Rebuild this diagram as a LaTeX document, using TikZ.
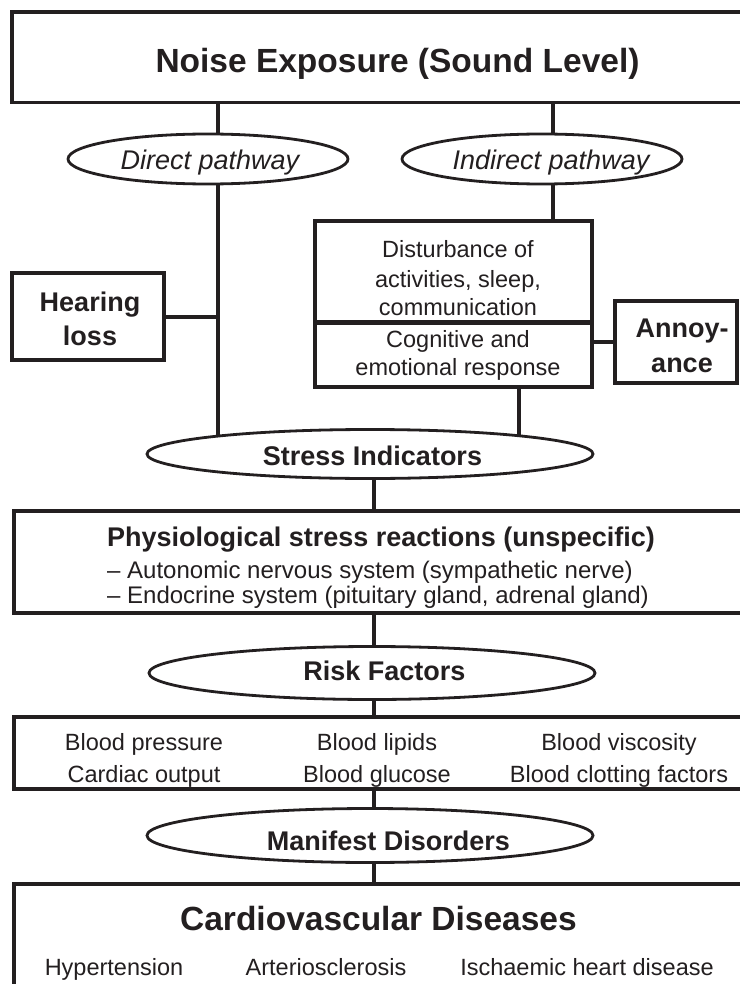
\documentclass[tikz,border=0pt]{standalone}
\usepackage{fontspec}
\setmainfont{Liberation Sans}
\usetikzlibrary{shapes.geometric,backgrounds}
\definecolor{ink}{RGB}{35,31,32}
\tikzset{
  box/.style={draw=ink, line width=3.2pt, fill=white, inner sep=0pt, outer sep=0pt},
  oval/.style={draw=ink, ellipse, line width=2.8pt, fill=white, inner sep=0pt, outer sep=0pt},
  link/.style={draw=ink, line width=4pt},
  txt/.style={text=ink, inner sep=0pt, anchor=base},
  headtext/.style={txt, font=\fontsize{33.5}{38}\selectfont\bfseries},
  boldtext/.style={txt, font=\fontsize{27}{32}\selectfont\bfseries},
  pathtext/.style={txt, font=\fontsize{27}{32}\selectfont\itshape},
  smalltext/.style={txt, font=\fontsize{23.5}{28}\selectfont},
}
\begin{document}
\begin{tikzpicture}[x=1pt, y=-1pt]
\useasboundingbox (0,0) rectangle (739,984);
\coordinate (lineL) at (217.5,0);
\coordinate (lineR) at (553,0);
\coordinate (lineC) at (519,0);
\coordinate (lineM) at (374,0);

\node[box, minimum width=778pt, minimum height=90.5pt] (noise) at (401,57.25) {};
\node[headtext] (noiseT) at (397.5,73) {Noise Exposure (Sound Level)};

\node[oval, minimum width=280pt, minimum height=50pt] (direct) at (208,159) {};
\node[pathtext] (directT) at (210,170) {Direct pathway};
\node[oval, minimum width=280pt, minimum height=50pt] (indirect) at (542,159) {};
\node[pathtext] (indirectT) at (551,170) {Indirect pathway};

\node[box, minimum width=152pt, minimum height=87pt] (hearing) at (88,316.5) {};
\node[boldtext] (hearT1) at (90,311) {Hearing};
\node[boldtext] (hearT2) at (90,345) {loss};

\node[box, minimum width=277pt, minimum height=101pt] (disturb) at (453.5,271.5) {};
\node[box, minimum width=277pt, minimum height=65pt] (cognitive) at (453.5,354.5) {};
\draw[draw=ink, line width=5pt] (disturb.south west) -- (disturb.south east);
\foreach \k/\y/\t in {1/258/Disturbance of, 2/287/{activities, sleep,}, 3/315/communication, 4/347/Cognitive and, 5/375/emotional response}
    \node[smalltext] (dist\k) at (458,\y) {\t};

\node[box, minimum width=122pt, minimum height=82pt] (annoy) at (676,342) {};
\node[boldtext] (annoyT1) at (682,337) {Annoy-};
\node[boldtext] (annoyT2) at (682,372) {ance};

\node[oval, minimum width=446pt, minimum height=49pt] (stress) at (370,454) {};
\node[boldtext] (stressT) at (372.5,465) {Stress Indicators};

\node[box, minimum width=776pt, minimum height=102pt] (physio) at (402,562) {};
\node[boldtext, anchor=base west] (physT) at (107,546) {Physiological stress reactions (unspecific)};
\node[txt, anchor=base west, font=\fontsize{24}{28}\selectfont] (physA) at (107,578) {– Autonomic nervous system (sympathetic nerve)};
\node[txt, anchor=base west, font=\fontsize{24}{28}\selectfont] (physE) at (107,603.5) {– Endocrine system (pituitary gland, adrenal gland)};

\node[oval, minimum width=446pt, minimum height=53pt] (risk) at (372,673) {};
\node[boldtext] (riskT) at (384.5,680) {Risk Factors};

\node[box, minimum width=776pt, minimum height=72pt] (factors) at (402,753) {};
\foreach \k/\x/\a/\b in {1/144/Blood pressure/Cardiac output, 2/377/Blood lipids/Blood glucose, 3/619/Blood viscosity/Blood clotting factors} {
    \node[smalltext] (fa\k) at (\x,750) {\a};
    \node[smalltext] (fb\k) at (\x,782) {\b};
}

\node[oval, minimum width=446pt, minimum height=54pt] (manifest) at (370,835.5) {};
\node[boldtext] (manifestT) at (388.5,850) {Manifest Disorders};

\node[box, minimum width=776pt, minimum height=122pt] (cvd) at (402,945) {};
\node[headtext] (cvdT) at (378.5,930) {Cardiovascular Diseases};
\foreach \k/\x/\t in {1/114/Hypertension, 2/326/Arteriosclerosis, 3/587/Ischaemic heart disease}
    \node[smalltext] (cvd\k) at (\x,975) {\t};

\begin{scope}[on background layer]
\draw[link] (noise.south -| lineL) -- (direct.center -| lineL);
\draw[link] (direct.center -| lineL) -- (stress.center -| lineL);
\draw[link] (hearing.east) -- (hearing.east -| lineL);
\draw[link] (noise.south -| lineR) -- (indirect.center -| lineR);
\draw[link] (indirect.center -| lineR) -- (disturb.north -| lineR);
\draw[link] (annoy.west) -- (annoy.west -| cognitive.east);
\draw[link] (cognitive.south -| lineC) -- (stress.center -| lineC);
\draw[link] (stress.center -| lineM) -- (physio.north -| lineM);
\draw[link] (physio.south -| lineM) -- (risk.center -| lineM);
\draw[link] (risk.center -| lineM) -- (factors.north -| lineM);
\draw[link] (factors.south -| lineM) -- (manifest.center -| lineM);
\draw[link] (manifest.center -| lineM) -- (cvd.north -| lineM);
\end{scope}
\end{tikzpicture}
\end{document}
